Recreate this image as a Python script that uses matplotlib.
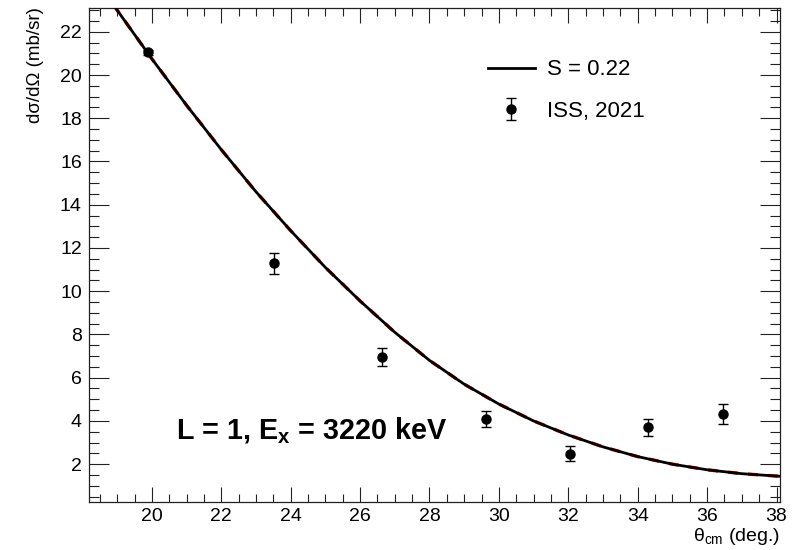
import matplotlib
matplotlib.use("Agg")
import matplotlib.pyplot as plt
from matplotlib.ticker import MultipleLocator

plt.rcParams["font.family"] = ["Liberation Sans", "DejaVu Sans"]
plt.rcParams["mathtext.fontset"] = "custom"
plt.rcParams["mathtext.rm"] = "Liberation Sans"
plt.rcParams["mathtext.it"] = "Liberation Sans:italic"
plt.rcParams["mathtext.bf"] = "Liberation Sans:bold"

# Measured differential cross sections (ISS, 2021)
theta_data = [19.88, 23.52, 26.63, 29.63, 32.06, 34.31, 36.46]
xs_data = [21.05, 11.3, 6.95, 4.09, 2.49, 3.70, 4.31]
xs_err = [0.12, 0.49, 0.41, 0.36, 0.33, 0.39, 0.45]

# Calculated angular distribution scaled by S = 0.22
theta_calc = [18.9, 19.0, 20.0, 21.0, 22.0, 23.0, 24.0, 25.0, 26.0, 27.0, 28.0,
              29.0, 30.0, 31.0, 32.0, 33.0, 34.0, 35.0, 36.0, 37.0, 38.0, 38.2]
xs_calc = [23.25, 23.0, 20.75, 18.6, 16.55, 14.6, 12.8, 11.1, 9.55, 8.1, 6.8,
           5.7, 4.78, 4.0, 3.35, 2.8, 2.35, 2.0, 1.74, 1.56, 1.45, 1.43]

fig = plt.figure(figsize=(8.08, 5.50), dpi=100)
ax = fig.add_axes([88.7 / 808, 1 - 502 / 550, (780 - 88.7) / 808, (502 - 8) / 550])

ax.plot(theta_calc, xs_calc, color="red", lw=2.4, ls=(0, (3, 3)), zorder=2)
ax.plot(theta_calc, xs_calc, color="black", lw=2.0, zorder=3, label="S = 0.22")
ax.errorbar(theta_data, xs_data, yerr=xs_err, fmt="o", color="black",
            ms=6.5, elinewidth=1.0, capsize=3.5, capthick=1.0, zorder=4,
            label="ISS, 2021")

ax.set_xlim(18.18, 38.1)
ax.set_ylim(0.25, 23.1)

ax.xaxis.set_major_locator(MultipleLocator(2))
ax.xaxis.set_minor_locator(MultipleLocator(0.5))
ax.yaxis.set_major_locator(MultipleLocator(2))
ax.yaxis.set_minor_locator(MultipleLocator(0.5))

ax.tick_params(axis="both", which="both", direction="in", top=True, right=True,
               color="#222222", width=0.8, labelsize=14)
ax.tick_params(axis="y", which="major", length=14.4, pad=5)
ax.tick_params(axis="y", which="minor", length=7.2)
ax.tick_params(axis="x", which="major", length=10.8, pad=4.5)
ax.tick_params(axis="x", which="minor", length=5.8)
for s in ax.spines.values():
    s.set_linewidth(0.9)
    s.set_color("#222222")

fig.text(35 / 808, 1 - 7 / 550, "dσ/dΩ (mb/sr)", rotation=90,
         ha="center", va="top", fontsize=13.5)
fig.text(780 / 808, 1 - 541 / 550, "θ$_{\\mathrm{cm}}$ (deg.)",
         ha="right", va="baseline", fontsize=14)

ax.text(0.127, 0.127, "L = 1, E$_{\\mathbf{x}}$ = 3220 keV", transform=ax.transAxes,
        fontsize=20.7, fontweight="bold", ha="left", va="baseline")

handles, labels = ax.get_legend_handles_labels()
ax.legend(handles, labels, loc="upper left", bbox_to_anchor=(0.5647, 0.914),
          frameon=False, fontsize=16, handlelength=2.1, handletextpad=0.54,
          labelspacing=0.91, borderaxespad=0)

fig.savefig("out.png", dpi=100)
